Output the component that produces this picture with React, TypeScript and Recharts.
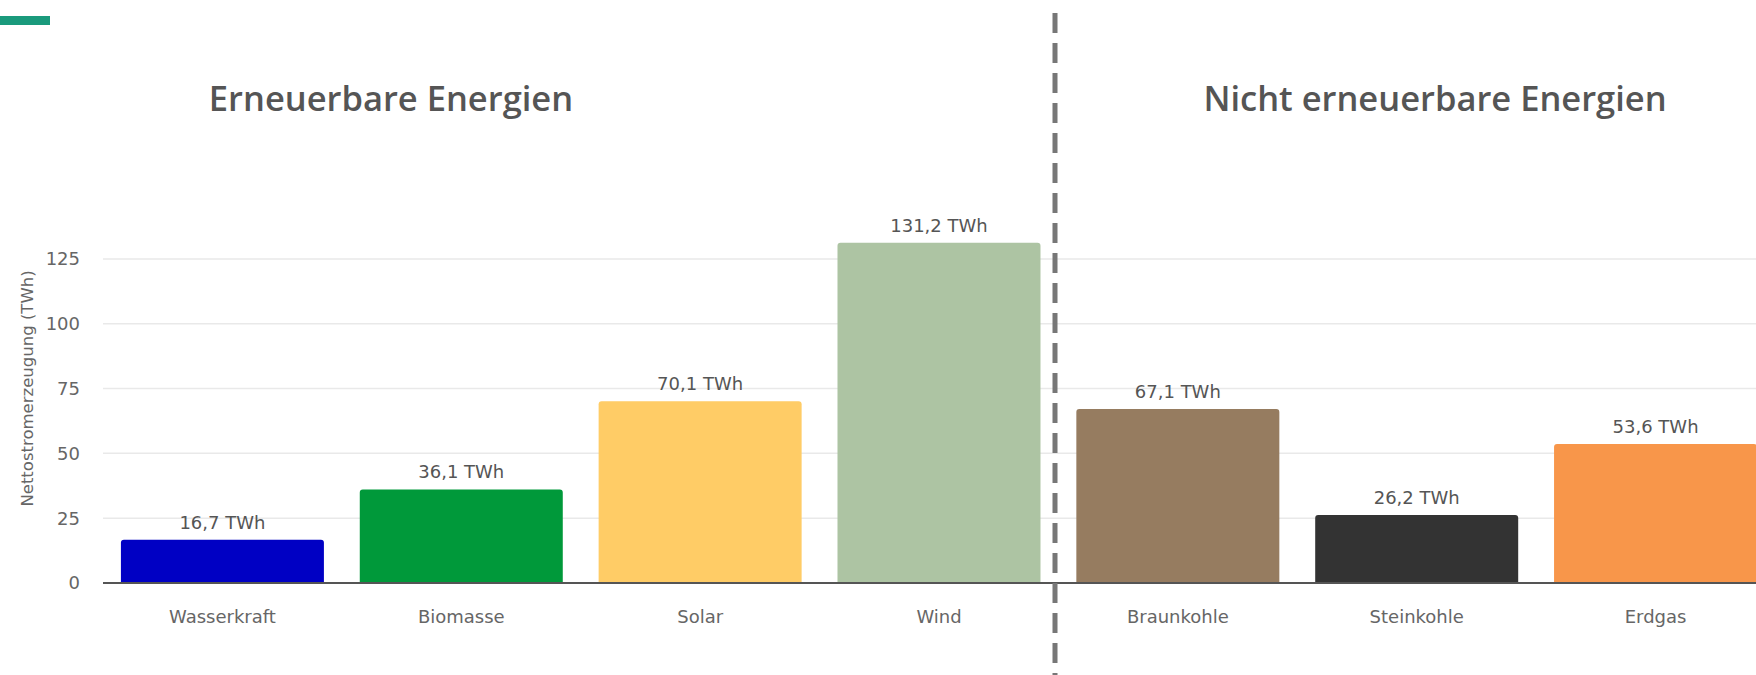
import { BarChart, Bar, XAxis, YAxis, CartesianGrid, Cell, LabelList } from 'recharts';

const categories = ['Wasserkraft', 'Biomasse', 'Solar', 'Wind', 'Braunkohle', 'Steinkohle', 'Erdgas'];
const values = [16.7, 36.1, 70.1, 131.2, 67.1, 26.2, 53.6];
const barColors = ['#0000c4', '#00993a', '#ffcc66', '#adc4a3', '#967c60', '#333333', '#f8964a'];
const yTicks = [0, 25, 50, 75, 100, 125];
const groupTitles = ['Erneuerbare Energien', 'Nicht erneuerbare Energien'];

const data = categories.map((name, i) => ({ name, value: values[i] }));

const fmt = (v: number) => `${String(v).replace('.', ',')} TWh`;

const axisFont = '"DejaVu Sans", Verdana, sans-serif';

export default function App() {
  return (
    <div
      style={{
        position: 'fixed',
        left: 0,
        top: 0,
        width: 1756,
        height: 675,
        overflow: 'hidden',
        background: '#fff',
      }}
    >
      {/* teal accent bar */}
      <div style={{ position: 'absolute', left: 0, top: 16, width: 50, height: 9, background: '#1a9a7c' }} />

      {/* group titles */}
      <div style={titleStyle(391)}>{groupTitles[0]}</div>
      <div style={titleStyle(1435)}>{groupTitles[1]}</div>

      <div style={{ position: 'absolute', left: 0, top: 0 }}>
        <BarChart
          width={1776}
          height={675}
          data={data}
          margin={{ top: 220, right: 1, bottom: 32, left: 0 }}
          barCategoryGap="7.5%"
        >
          <CartesianGrid vertical={false} horizontalValues={yTicks} stroke="#e9e9e9" strokeWidth={1.5} />
          <XAxis
            dataKey="name"
            height={60}
            tickLine={false}
            axisLine={{ stroke: '#555', strokeWidth: 2 }}
            tickMargin={21}
            tick={{ fill: '#666', fontSize: 18, fontFamily: axisFont }}
          />
          <YAxis
            width={103}
            domain={[0, 140]}
            ticks={yTicks}
            axisLine={false}
            tickLine={false}
            tickMargin={17}
            tick={{ fill: '#666', fontSize: 18, fontFamily: axisFont }}
            label={{
              value: 'Nettostromerzeugung (TWh)',
              angle: -90,
              position: 'insideLeft',
              offset: 27,
              dy: -13,
              style: { fill: '#666', fontSize: 16.5, fontFamily: axisFont, textAnchor: 'middle' },
            }}
          />
          <Bar dataKey="value" radius={[3, 3, 0, 0]} isAnimationActive={false}>
            {data.map((d, i) => (
              <Cell key={d.name} fill={barColors[i]} />
            ))}
            <LabelList
              dataKey="value"
              position="top"
              offset={11}
              formatter={(v: number) => fmt(v)}
              style={{ fill: '#555', fontSize: 18, fontFamily: axisFont }}
            />
          </Bar>
        </BarChart>
      </div>

      {/* dashed divider between the two groups */}
      <svg style={{ position: 'absolute', left: 0, top: 0 }} width={1756} height={675}>
        <line x1={1055} x2={1055} y1={13} y2={675} stroke="#777" strokeWidth={5} strokeDasharray="20 10" />
      </svg>
    </div>
  );
}

function titleStyle(cx: number): React.CSSProperties {
  return {
    position: 'absolute',
    left: cx,
    top: 74,
    transform: 'translateX(-50%)',
    whiteSpace: 'nowrap',
    fontFamily: '"Open Sans", Lato, sans-serif',
    fontWeight: 600,
    fontSize: 34.5,
    color: '#555',
  };
}
